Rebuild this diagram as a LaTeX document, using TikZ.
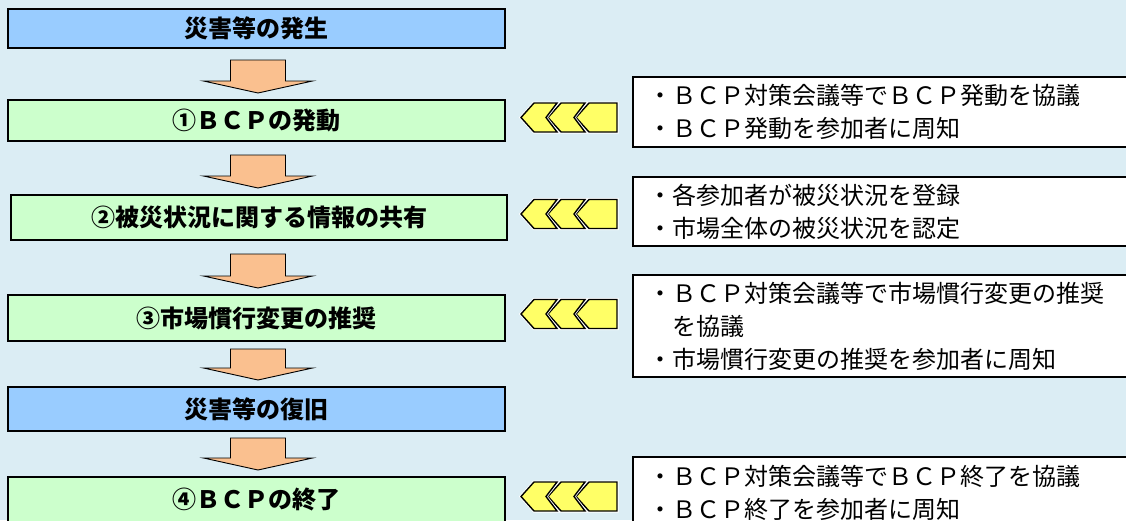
\documentclass[tikz,border=0pt]{standalone}
\usepackage{fontspec}
\setmainfont{Noto Sans CJK JP}
\usetikzlibrary{calc}
\definecolor{bg}{RGB}{219,237,244}
\definecolor{evblue}{RGB}{153,204,255}
\definecolor{stgreen}{RGB}{204,255,204}
\definecolor{peach}{RGB}{250,192,143}
\definecolor{chevy}{RGB}{255,255,102}
\tikzset{
  flowbox/.style={draw=black, line width=1.3pt, minimum width=497pt, inner sep=0pt, outer sep=0pt, anchor=north west, font=\fontsize{24}{28}\selectfont\bfseries},
  eventbox/.style={flowbox, fill=evblue},
  stepbox/.style={flowbox, fill=stgreen},
  notebox/.style={draw=black, line width=1.6pt, fill=white, anchor=north west, inner xsep=15pt, inner ysep=0pt, outer sep=0pt, text width=520pt, align=left, font=\fontsize{24}{33}\selectfont},
  barrow/.style={draw=black, line width=0.9pt, fill=peach, line join=miter},
  chevw/.style={draw=white, line width=3pt, line join=miter},
  chevb/.style={draw=black, fill=chevy, line width=1.4pt, line join=miter},
}
% #1 upper node, #2 lower node, #3 gap below upper node
\newcommand{\flowarrow}[3]{%
  \draw[barrow] let \p1=(#1.south), \p2=(#2.north), \p3=(e1.south) in
    ({\x3+1.5pt-27.5pt},{\y1-#3pt}) -- ({\x3+1.5pt+27.5pt},{\y1-#3pt}) --
    ({\x3+1.5pt+27.5pt},{\y2+19pt}) -- ({\x3+1.5pt+54.5pt},{\y2+19pt}) --
    ({\x3+1.5pt},{\y2+7pt}) -- ({\x3+1.5pt-54.5pt},{\y2+19pt}) --
    ({\x3+1.5pt-27.5pt},{\y2+19pt}) -- cycle;}
\newcommand{\chevrow}[1]{%
  \begin{scope}[shift={(0,#1)}]
    \path[chevw] (576,0) -- (589,-14.5) -- (617,-14.5) -- (617,14.5) -- (589,14.5) -- cycle;
    \path[chevb] (576,0) -- (589,-14.5) -- (617,-14.5) -- (617,14.5) -- (589,14.5) -- cycle;
    \path[chevw] (548,0) -- (561,-14.5) -- (585,-14.5) -- (574,0) -- (585,14.5) -- (561,14.5) -- cycle;
    \path[chevb] (548,0) -- (561,-14.5) -- (585,-14.5) -- (574,0) -- (585,14.5) -- (561,14.5) -- cycle;
    \path[chevw] (521,0) -- (534,-14.5) -- (557,-14.5) -- (546,0) -- (557,14.5) -- (534,14.5) -- cycle;
    \path[chevb] (521,0) -- (534,-14.5) -- (557,-14.5) -- (546,0) -- (557,14.5) -- (534,14.5) -- cycle;
  \end{scope}}
\begin{document}
\begin{tikzpicture}[x=1pt,y=-1pt]
  \useasboundingbox (0,0) rectangle (1126,520);
  \fill[bg] (0,0) rectangle (1126,520);
  \clip (0,0) rectangle (1126,520);
  % left flow
  \node[eventbox, minimum height=39pt] (e1) at (8,9) {災害等の発生};
  \node[stepbox, minimum height=41pt] (s1) at (8,100) {①ＢＣＰの発動};
  \node[stepbox, minimum width=496pt, minimum height=45pt] (s2) at (11,195) {②被災状況に関する情報の共有};
  \node[stepbox, minimum height=46pt] (s3) at (8,295) {③市場慣行変更の推奨};
  \node[eventbox, minimum height=44pt] (e2) at (8,387) {災害等の復旧};
  \node[stepbox, minimum height=46pt] (s4) at (8,477) {④ＢＣＰの終了};
  \flowarrow{e1}{s1}{12}
  \flowarrow{s1}{s2}{14}
  \flowarrow{s2}{s3}{14}
  \flowarrow{s3}{e2}{8}
  \flowarrow{e2}{s4}{7}
  % right notes
  \node[notebox, minimum height=70pt] (n1) at (633,77) {・ＢＣＰ対策会議等でＢＣＰ発動を協議\\・ＢＣＰ発動を参加者に周知};
  \node[notebox, minimum height=69pt] (n2) at (633,177) {・各参加者が被災状況を登録\\・市場全体の被災状況を認定};
  \node[notebox, minimum height=102pt] (n3) at (633,275) {・ＢＣＰ対策会議等で市場慣行変更の推奨\\　を協議\\・市場慣行変更の推奨を参加者に周知};
  \node[notebox, minimum height=72pt] (n4) at (633,457) {・ＢＣＰ対策会議等でＢＣＰ終了を協議\\・ＢＣＰ終了を参加者に周知};
  % chevrons
  \chevrow{117.5}
  \chevrow{214}
  \chevrow{314}
  \chevrow{496.5}
\end{tikzpicture}
\end{document}
